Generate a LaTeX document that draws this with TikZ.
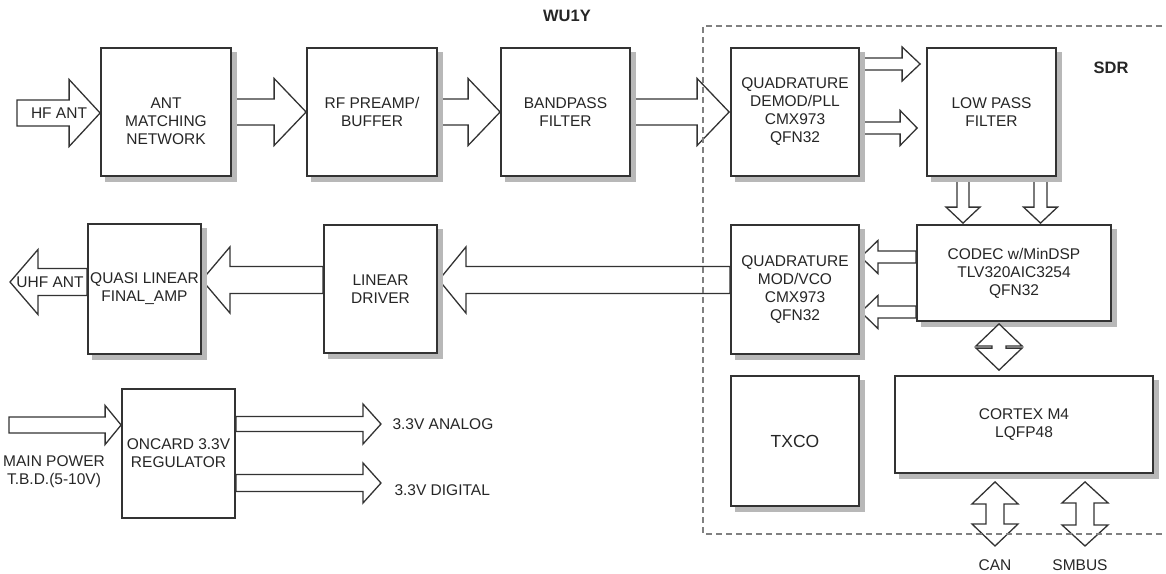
\documentclass[tikz,border=0pt]{standalone}
\usepackage{fontspec}
\setmainfont{Liberation Sans}
\usetikzlibrary{calc,backgrounds}

% hollow block arrows: start, tip, shaft half width, head half width, head length
\newcommand{\harrow}[5]{%
  \draw[fat] let \p1=(#1), \p2=(#2), \n2={\x2-sign(\x2-\x1)*#5pt} in
    (\x1,\y1+#3pt) -- (\n2,\y1+#3pt) -- (\n2,\y1+#4pt) -- (\x2,\y1)
    -- (\n2,\y1-#4pt) -- (\n2,\y1-#3pt) -- (\x1,\y1-#3pt) -- cycle;}
\newcommand{\varrow}[5]{%
  \draw[fat] let \p1=(#1), \p2=(#2), \n2={\y2-sign(\y2-\y1)*#5pt} in
    (\x1+#3pt,\y1) -- (\x1+#3pt,\n2) -- (\x1+#4pt,\n2) -- (\x1,\y2)
    -- (\x1-#4pt,\n2) -- (\x1-#3pt,\n2) -- (\x1-#3pt,\y1) -- cycle;}
\newcommand{\dblarrow}[5]{%
  \draw[fat] let \p1=(#1), \p2=(#2) in
    (\x1,\y1) -- (\x1+#4pt,\y1-#5pt) -- (\x1+#3pt,\y1-#5pt) -- (\x1+#3pt,\y2+#5pt)
    -- (\x1+#4pt,\y2+#5pt) -- (\x1,\y2) -- (\x1-#4pt,\y2+#5pt) -- (\x1-#3pt,\y2+#5pt)
    -- (\x1-#3pt,\y1-#5pt) -- (\x1-#4pt,\y1-#5pt) -- cycle;}

\tikzset{
  blk/.style={draw=black!80, line width=1.8pt, fill=white, align=center,
    minimum width=130pt, minimum height=128pt, inner sep=2pt},
  fat/.style={draw=black!80, line width=1.3pt, fill=white, line join=miter},
  ttl/.style={font=\bfseries\fontsize{16.5}{19}\selectfont},
}

\begin{document}
\begin{tikzpicture}[x=1pt,y=-1pt,font=\fontsize{15.5}{18}\selectfont,text=black!85]
\useasboundingbox (0,0) rectangle (1166,573);

% receive chain
\node[blk,label={[align=center,yshift=-9pt,text=black!85]center:ANT\\MATCHING\\NETWORK}] (ant) at (166,112) {};
\node[blk] (rf) at (372,112) {RF PREAMP/\\BUFFER};
\node[blk,minimum width=129pt] (bp) at (565.5,112) {BANDPASS\\FILTER};
\node[blk,minimum width=128pt] (demod) at (795,112) {QUADRATURE\\DEMOD/PLL\\CMX973\\QFN32};
\node[blk,minimum width=129pt] (lpf) at (991.5,112) {LOW PASS\\FILTER};

% transmit chain
\node[blk,minimum width=194pt,minimum height=96pt] (codec) at (1014,273) {CODEC w/MinDSP\\TLV320AIC3254\\QFN32};
\node[blk,minimum width=128pt,minimum height=129pt] (mod) at (795,289.5) {QUADRATURE\\MOD/VCO\\CMX973\\QFN32};
\node[blk,minimum width=113pt] (drv) at (380.5,289) {LINEAR\\DRIVER};
\node[blk,minimum width=113pt,minimum height=130pt] (final) at (144.5,289) {QUASI LINEAR\\FINAL\_AMP};

% power, clock, mcu
\node[blk,minimum width=113pt,minimum height=129pt] (reg) at (178.5,453.5) {ONCARD 3.3V\\REGULATOR};
\node[blk,minimum width=128pt,minimum height=130pt,font=\fontsize{17.5}{20}\selectfont] (txco) at (795,441) {TXCO};
\node[blk,minimum width=258pt,minimum height=97pt] (mcu) at (1024,424.5) {CORTEX M4\\LQFP48};

% free ends
\coordinate (hfin) at (17,113);
\coordinate (uhfout) at (10,282);
\coordinate (pwrin) at (9,425);
\coordinate (anaout) at (381,424);
\coordinate (digout) at (381,483);
\coordinate (canend) at (995,546);
\coordinate (smbend) at (1085,546);

\begin{scope}[on background layer]
\harrow{hfin}{ant.west}{13}{33.5}{31}
\harrow{ant.east}{rf.west}{13}{33.5}{32}
\harrow{rf.east}{bp.west}{13}{33.5}{32}
\harrow{bp.east}{[xshift=-1pt]demod.west}{13}{33.5}{32}
\harrow{[yshift=48pt]demod.east}{[xshift=-6pt]lpf.west}{6}{17}{18}
\harrow{[yshift=-16pt]demod.east}{[xshift=-9pt]lpf.west}{6}{17.5}{17}
\varrow{[xshift=-28.5pt]lpf.south}{[yshift=1pt]codec.north}{6}{17}{16}
\varrow{[xshift=49pt]lpf.south}{[yshift=1pt]codec.north}{6.5}{17}{16}
\harrow{[yshift=16pt]codec.west}{[xshift=1pt]mod.east}{6}{16.5}{17}
\harrow{[yshift=-39pt]codec.west}{[xshift=1pt]mod.east}{6}{16.5}{17}
\harrow{[yshift=9.5pt]mod.west}{[xshift=1pt]drv.east}{13.5}{33}{27}
\harrow{[yshift=9pt]drv.west}{final.east}{13.5}{33}{28}
\harrow{[yshift=7pt]final.west}{uhfout}{13.5}{32.5}{28}
\harrow{pwrin}{reg.west}{8}{19.5}{16}
\harrow{[yshift=29.5pt]reg.east}{anaout}{7.5}{20}{18}
\harrow{[yshift=-29.5pt]reg.east}{digout}{8.5}{20}{18}
\dblarrow{[xshift=-29pt,yshift=-8pt]mcu.south}{canend}{9}{23}{22}
\dblarrow{[xshift=61pt,yshift=-8pt]mcu.south}{smbend}{9}{23}{21}
% shadows
\foreach \bx in {ant,rf,bp,demod,lpf,codec,mod,drv,final,txco,mcu}
  \fill[black!28] ($(\bx.south west)+(5,5)$) rectangle ($(\bx.north east)+(5,5)$);
\dblarrow{[xshift=-15pt,yshift=-2pt]codec.south}{[xshift=-25pt,yshift=5pt]mcu.north}{7}{23}{22}
\draw[black!50, line width=1.3pt, dash pattern=on 6pt off 4pt]
  (1172,26) -- (703,26) -- (703,534) -- (1172,534);
\end{scope}

% labels
\node (hf) at (59,113) {HF ANT};
\node (uhf) at (50,282) {UHF ANT};
\node[align=center] (pwr) at (54,472) {MAIN POWER\\T.B.D.(5-10V)};
\node[anchor=west] (ana) at (389,424) {3.3V ANALOG};
\node[anchor=west] (dig) at (391,490) {3.3V DIGITAL};
\node (can) at (995,565) {CAN};
\node (smb) at (1080,565) {SMBUS};
\node[ttl] (call) at (567,16) {WU1Y};
\node[ttl] (sdr) at (1111,68) {SDR};
\end{tikzpicture}
\end{document}
